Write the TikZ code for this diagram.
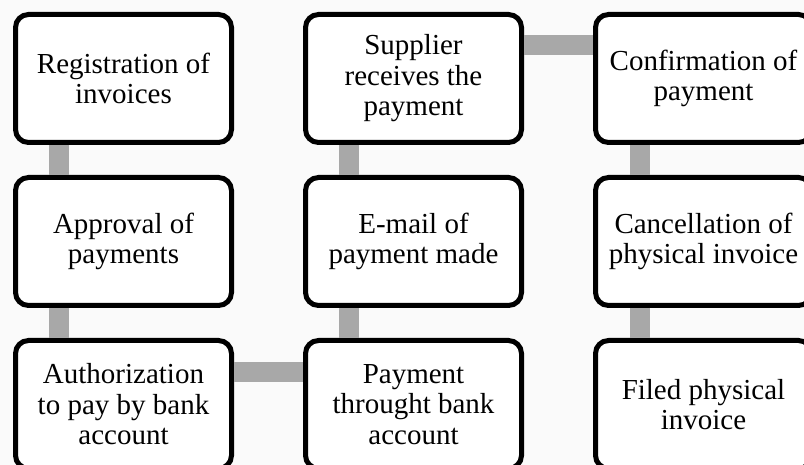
\documentclass[tikz,border=0pt]{standalone}
\usepackage{fontspec}
\setmainfont{Liberation Serif}
\definecolor{paper}{HTML}{FAFAFA}
\definecolor{linkgray}{HTML}{A8A8A8}
\begin{document}
\begin{tikzpicture}[x=1pt,y=-1pt,
  stepbox/.style={draw=black, line width=5pt, fill=white, rounded corners=13pt,
    minimum width=216pt, minimum height=128pt, inner sep=0pt, align=center,
    font=\fontsize{29}{30.5}\selectfont},
  link/.style={draw=linkgray, line width=20pt, line cap=butt}]
  % page
  \fill[paper] (0,0) rectangle (804,465);
  \useasboundingbox (0,0) rectangle (804,465);
  % process steps, column by column
  \node[stepbox] (s1) at (123.5,78.5)  {Registration of\\invoices};
  \node[stepbox] (s2) at (123.5,241.5) {Approval of\\payments};
  \node[stepbox] (s3) at (123.5,404.5) {Authorization\\to pay by bank\\account};
  \node[stepbox] (s4) at (413.5,404.5) {Payment\\throught bank\\account};
  \node[stepbox] (s5) at (413.5,241.5) {E-mail of\\payment made};
  \node[stepbox] (s6) at (413.5,78.5)  {Supplier\\receives the\\payment};
  \node[stepbox] (s7) at (703.5,78.5)  {Confirmation of\\payment};
  \node[stepbox] (s8) at (703.5,241.5) {Cancellation of\\physical invoice};
  \node[stepbox] (s9) at (703.5,404.5) {Filed physical\\invoice};
  % connecting bars
  \draw[link] ([xshift=46pt]s1.south west) -- ([xshift=46pt]s2.north west);
  \draw[link] ([xshift=46pt]s2.south west) -- ([xshift=46pt]s3.north west);
  \draw[link] ([yshift=-34pt]s3.north east) -- ([yshift=-34pt]s4.north west);
  \draw[link] ([xshift=46pt]s4.north west) -- ([xshift=46pt]s5.south west);
  \draw[link] ([xshift=46pt]s5.north west) -- ([xshift=46pt]s6.south west);
  \draw[link] ([yshift=-33pt]s6.north east) -- ([yshift=-33pt]s7.north west);
  \draw[link] ([xshift=47pt]s7.south west) -- ([xshift=47pt]s8.north west);
  \draw[link] ([xshift=47pt]s8.south west) -- ([xshift=47pt]s9.north west);
\end{tikzpicture}
\end{document}
